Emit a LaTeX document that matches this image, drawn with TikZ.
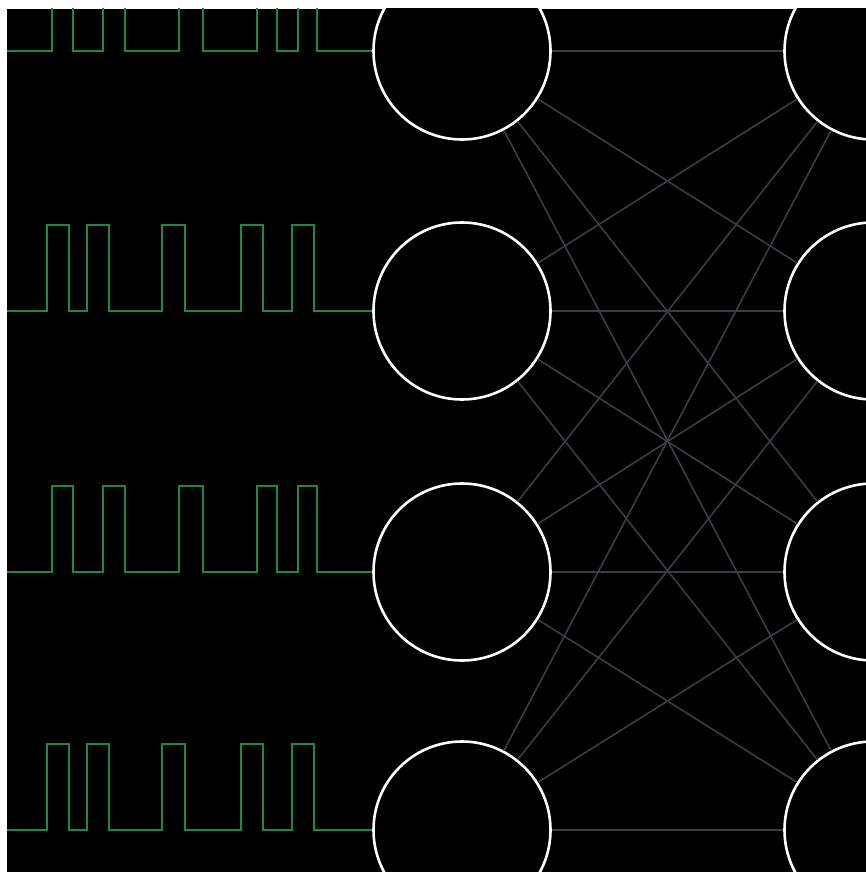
\documentclass[tikz,border=0pt]{standalone}
\definecolor{wavegreen}{RGB}{30,136,60}
\definecolor{linkgray}{RGB}{58,62,67}
\begin{document}
\begin{tikzpicture}[x=1pt,y=-1pt,
  neuron/.style={circle,draw=white,line width=2.6pt,fill=black,minimum size=177pt,inner sep=0pt},
  link/.style={draw=linkgray,line width=1.6pt},
  wave/.style={draw=wavegreen,line width=2.5pt}]
\useasboundingbox (0,0) rectangle (866,872);
\fill[white] (0,0) rectangle (866,872);
\fill[black] (7,9) rectangle (866,872);
\begin{scope}
\clip (7,9) rectangle (866,872);
% neurons
\foreach \i/\yy in {0/51,1/311,2/572,3/830}{
  \node[neuron] (L\i) at (462,\yy) {};
  \node[neuron] (R\i) at (873,\yy) {};
  \coordinate (W\i) at (7,\yy);
}
% links
\foreach \i in {0,...,3}{
  \foreach \j in {0,...,3}{
    \draw[link] (L\i) -- (R\j);
  }
}
% waves
\def\patA{52/73,103/125,179/203,257/277,298/317}
\def\patB{47/69,87/109,162/185,241/263,292/314}
\draw[wave] (W0) \foreach \a/\b in \patA {-- (\a,51) -- (\a,-35) -- (\b,-35) -- (\b,51)} -- (L0.west);
\draw[wave] (W1) \foreach \a/\b in \patB {-- (\a,311) -- (\a,225) -- (\b,225) -- (\b,311)} -- (L1.west);
\draw[wave] (W2) \foreach \a/\b in \patA {-- (\a,572) -- (\a,486) -- (\b,486) -- (\b,572)} -- (L2.west);
\draw[wave] (W3) \foreach \a/\b in \patB {-- (\a,830) -- (\a,744) -- (\b,744) -- (\b,830)} -- (L3.west);
\end{scope}
\end{tikzpicture}
\end{document}
